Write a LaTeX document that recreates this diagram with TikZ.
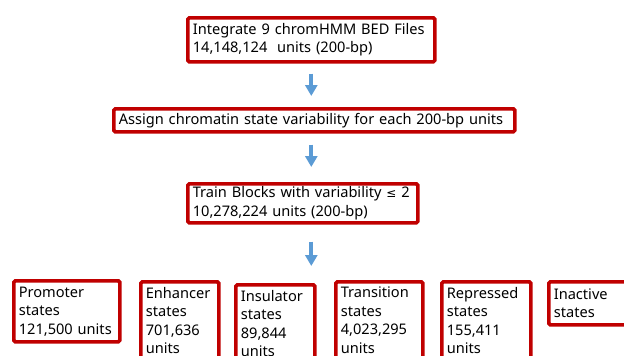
\documentclass[tikz,border=0pt]{standalone}
\usepackage{fontspec}
\setmainfont{Noto Sans}
\newfontfamily\symfont{DejaVu Sans}
\usepackage{tikz}
\usetikzlibrary{positioning, fit, arrows.meta}

\begin{document}
\begin{tikzpicture}[x=1pt, y=-1pt, >={Triangle[width=12pt,length=11pt]}]
		\definecolor{mred}{RGB}{192,0,0}
		\definecolor{mblue}{RGB}{91,155,213}
		\tikzset{
			stbox/.style={draw=mred, line width=3.6pt, rounded corners=1.5pt,
				anchor=north west, align=left, inner xsep=5pt, inner ysep=2pt,
				font=\fontsize{14.6}{18.5}\selectfont},
			flow/.style={->, draw=mblue, line width=4pt}
		}
		\clip (0,0) rectangle (624,356);
		\fill[white] (0,0) rectangle (624,356);

		% Pipeline
		\node[stbox, text width=237pt, minimum height=44pt] (integ) at (186,16)
			{Integrate 9 chromHMM BED Files\\14,148,124~~units (200-bp)};
		\node[stbox, text width=391pt, minimum height=23pt] (assign) at (112,107)
			{Assign chromatin state variability for each 200-bp units};
		\node[stbox, text width=220pt, minimum height=39pt] (train) at (186,182)
			{Train Blocks with variability {\symfont\fontsize{12}{18.5}\selectfont ≤} 2\\10,278,224 units (200-bp)};

		% State groups
		\node[stbox, text width=96pt, minimum height=61pt] (prom) at (12,279)
			{Promoter\\states\\121,500 units};
		\node[stbox, text width=68pt, minimum height=77pt] (enh) at (139,280)
			{Enhancer\\states\\701,636\\units};
		\node[stbox, text width=69pt, minimum height=77pt] (ins) at (234,283)
			{Insulator\\states\\89,844\\units};
		\node[stbox, text width=77pt, minimum height=77pt] (trans) at (334,280)
			{Transition\\states\\4,023,295\\units};
		\node[stbox, text width=79pt, minimum height=77pt] (repr) at (440,280)
			{Repressed\\states\\155,411\\units};
		\node[stbox, text width=80pt, minimum height=43pt] (inact) at (547,280)
			{Inactive\\states};

		% Edges
		\coordinate (row) at (integ.south |- enh.north);
		\draw[flow, shorten <=10pt, shorten >=11pt] (integ.south) -- (integ.south |- assign.north);
		\draw[flow, shorten <=11pt, shorten >=15pt] (assign.south -| integ.south) -- (integ.south |- train.north);
		\draw[flow, shorten <=17pt, shorten >=14pt] (train.south -| integ.south) -- (row);
\end{tikzpicture}
\end{document}
